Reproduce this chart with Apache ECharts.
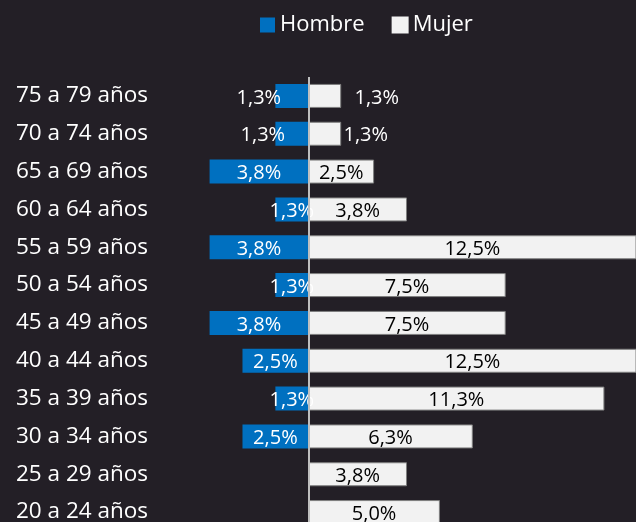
<!DOCTYPE html>
<html>
<head>
    <meta charset="utf-8">
    <title>Pirámide por edad</title>
    <style>
        html, body { margin: 0; padding: 0; background: #231f26; overflow: hidden; }
    </style>
</head>
<body>
<script src="https://cdn.jsdelivr.net/npm/echarts@6/dist/echarts.min.js" type="text/javascript" charset="utf-8"></script>
<!-- el gráfico sigue por debajo de la ventana, como en la imagen original -->
<div id="main" style="width: 636px;height:540px;"></div>
<script type="text/javascript">
    // grupos de edad, de arriba hacia abajo
    var edades = ['75 a 79 años', '70 a 74 años', '65 a 69 años', '60 a 64 años',
        '55 a 59 años', '50 a 54 años', '45 a 49 años', '40 a 44 años',
        '35 a 39 años', '30 a 34 años', '25 a 29 años', '20 a 24 años'];
    // porcentajes
    var hombre = [1.25, 1.25, 3.75, 1.25, 3.75, 1.25, 3.75, 2.5, 1.25, 2.5, 0, 0];
    var mujer = [1.25, 1.25, 2.5, 3.75, 12.5, 7.5, 7.5, 12.5, 11.25, 6.25, 3.75, 5.0];

    var fuente = 'Open Sans';

    function pct(p) {
        var v = Math.abs(p.value);
        if (v === 0) return '';
        return v.toFixed(1).replace('.', ',') + '%';
    }

    // etiquetas movidas a mano en el original (filas de arriba)
    var despHombre = {0: [-33, 2], 1: [-29, 2]};
    var despMujer = {0: [52, 2], 1: [41, 2]};

    var datosHombre = hombre.map(function (v, i) {
        var item = {value: -v};
        if (despHombre[i]) item.label = {offset: despHombre[i]};
        return item;
    });
    var datosMujer = mujer.map(function (v, i) {
        var item = {value: v};
        if (despMujer[i]) item.label = {offset: despMujer[i], color: '#ffffff'};
        return item;
    });

    var myChart = echarts.init(document.getElementById('main'));

    var option = {
        backgroundColor: '#231f26',
        animation: false,
        legend: {
            data: [
                {name: 'Hombre'},
                {name: 'Mujer', itemStyle: {borderColor: '#f2f2f2'}}
            ],
            left: 255,
            top: 9,
            itemWidth: 15,
            itemHeight: 15,
            itemGap: 27,
            icon: 'rect',
            textStyle: {color: '#ffffff', fontSize: 22, fontFamily: fuente}
        },
        grid: {left: 203, right: 0, top: 77, bottom: 9},
        xAxis: {
            type: 'value',
            min: -4,
            max: 12.45,
            show: false
        },
        yAxis: {
            type: 'category',
            inverse: true,
            data: edades,
            axisLine: {show: false},
            axisTick: {show: false},
            axisLabel: {
                align: 'left',
                margin: 187,
                padding: [3, 0, 0, 0],
                color: '#ffffff',
                fontSize: 22.5,
                fontFamily: fuente
            }
        },
        series: [
            {
                name: 'Hombre',
                type: 'bar',
                stack: 'total',
                barWidth: 24,
                itemStyle: {color: '#0070c0'},
                label: {
                    show: true,
                    position: 'inside',
                    offset: [0, 2],
                    color: '#ffffff',
                    fontSize: 20,
                    fontFamily: fuente,
                    formatter: pct
                },
                data: datosHombre
            },
            {
                name: 'Mujer',
                type: 'bar',
                stack: 'total',
                barWidth: 24,
                itemStyle: {color: '#f2f2f2', borderColor: '#7f7f7f', borderWidth: 1},
                label: {
                    show: true,
                    position: 'inside',
                    offset: [0, 2],
                    color: '#000000',
                    fontSize: 20,
                    fontFamily: fuente,
                    formatter: pct
                },
                markLine: {
                    silent: true,
                    symbol: ['none', 'none'],
                    label: {show: false},
                    lineStyle: {color: '#bfbfbf', width: 2, type: 'solid'},
                    data: [{xAxis: 0}]
                },
                data: datosMujer
            }
        ]
    };

    myChart.setOption(option);
</script>
</body>
</html>
